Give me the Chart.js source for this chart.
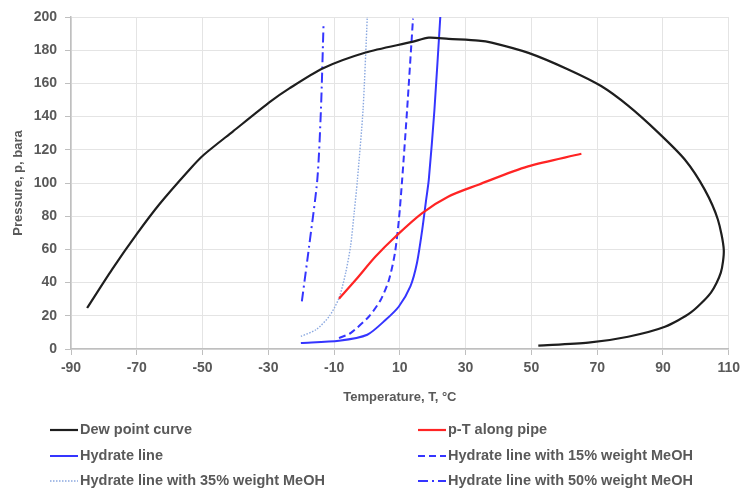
<!DOCTYPE html>
<html>
<head>
<meta charset="utf-8">
<script src="https://cdn.jsdelivr.net/npm/chart.js@4.4.1/dist/chart.umd.min.js"></script>
<style>
  html, body { margin: 0; padding: 0; background: #fff; }
  #wrap { position: relative; width: 745px; height: 492px; }
</style>
</head>
<body>
<div id="wrap"><canvas id="phaseChart" width="745" height="492"></canvas></div>
<script>
// Dew point curve (T in degC, p in bara)
const dewT = [-85.1, -77.5, -69.8, -63, -54, -49.6, -40.8, -29.4, -23.6, -13.5, -0.4, 13.7, 18.8, 24.8, 33.9, 37.9, 49.1, 61.2, 71.2, 79.4, 88.5, 96.7, 102.7, 106.7, 108.5, 107.6, 104.6, 98.5, 90.6, 79.4, 67.3, 52.1];
const dewP = [24.7, 48, 69.8, 87.5, 108, 117, 131, 149, 157, 169, 178.6, 185, 187.6, 186.8, 185.8, 184.6, 178.4, 168.4, 158.4, 146.6, 130.5, 114, 96, 78, 59.8, 46, 34, 22, 13.4, 7.4, 3.8, 2];

// p-T along pipe
const pipeT = [-8.5, -3.4, 2.6, 8.7, 16.8, 24.8, 33.9, 49, 65.2];
const pipeP = [30.3, 41.7, 55.7, 67.8, 81.9, 91.9, 99, 110, 117.6];

// Hydrate line
const hydT = [-20.1, -8.5, 0.1, 5.7, 9.7, 13.2, 15.2, 16.8, 18, 18.8, 20.5, 22.3];
const hydP = [3.6, 5, 8.6, 17.6, 25.6, 37.7, 51.8, 71.8, 90, 102, 143.7, 200];

// Hydrate line with 15% weight MeOH
const meoh15T = [-8.5, -5, 0.6, 4.2, 6.7, 8.5, 9.7, 10.7, 12.2, 14];
const meoh15P = [6.6, 9.6, 19.6, 29.7, 41.7, 57.8, 77.8, 102, 144, 199];

// Hydrate line with 35% weight MeOH
const meoh35T = [-20.1, -15.5, -11.5, -8.5, -6.5, -5, -3.9, -2.9, -1.2, 0.1];
const meoh35P = [7.6, 11.6, 19.6, 30.7, 45.7, 61.8, 81.9, 102, 144, 200];

// Hydrate line with 50% weight MeOH
const meoh50T = [-19.8, -17.6, -15.1, -14, -13.2];
const meoh50P = [28.7, 61.8, 102, 144, 196];

const xTicks = { min: -90, max: 110, step: 20 };
const yTicks = { min: 0, max: 200, step: 20 };

function pts(xs, ys) {
    return xs.map((x, i) => ({ x: x, y: ys[i] }));
}

const textColor = '#595959';
const tickFont = { family: 'Liberation Sans', size: 14, weight: 'bold' };
const titleFont = { family: 'Liberation Sans', size: 13, weight: 'bold' };

const datasets = [
    { label: 'Dew point curve', data: pts(dewT, dewP), borderColor: '#1e1e1e', borderWidth: 2.2, tension: 0.25, legendPos: [0, 0] },
    { label: 'p-T along pipe', data: pts(pipeT, pipeP), borderColor: '#ff2424', borderWidth: 2.2, tension: 0.3, legendPos: [1, 0] },
    { label: 'Hydrate line', data: pts(hydT, hydP), borderColor: '#3535ff', borderWidth: 2, tension: 0.25, legendPos: [0, 1] },
    { label: 'Hydrate line with 15% weight MeOH', data: pts(meoh15T, meoh15P), borderColor: '#3535ff', borderWidth: 2, borderDash: [7, 4], tension: 0.25, legendPos: [1, 1] },
    { label: 'Hydrate line with 35% weight MeOH', data: pts(meoh35T, meoh35P), borderColor: '#8aa8e0', borderWidth: 1.4, borderDash: [1.5, 1.5], tension: 0.25, legendPos: [0, 2] },
    { label: 'Hydrate line with 50% weight MeOH', data: pts(meoh50T, meoh50P), borderColor: '#3535ff', borderWidth: 2, borderDash: [10, 4, 2, 4], tension: 0.25, legendPos: [1, 2] }
];
datasets.forEach(d => { d.showLine = true; d.pointRadius = 0; d.fill = false; });

// two-column legend under the axis title
const legendPlugin = {
    id: 'twoColLegend',
    afterDraw(chart) {
        const ctx = chart.ctx;
        const colX = [50, 418];
        const rowY = [430, 456, 481];
        ctx.save();
        ctx.font = 'bold 14.5px "Liberation Sans"';
        ctx.textBaseline = 'middle';
        ctx.fillStyle = textColor;
        chart.data.datasets.forEach(ds => {
            const x = colX[ds.legendPos[0]];
            const y = rowY[ds.legendPos[1]];
            ctx.strokeStyle = ds.borderColor;
            ctx.lineWidth = ds.borderWidth;
            ctx.setLineDash(ds.borderDash || []);
            ctx.beginPath();
            ctx.moveTo(x, y);
            ctx.lineTo(x + 28, y);
            ctx.stroke();
            ctx.setLineDash([]);
            ctx.fillText(ds.label, x + 30, y);
        });
        ctx.restore();
    }
};

new Chart(document.getElementById('phaseChart'), {
    type: 'scatter',
    data: { datasets: datasets },
    options: {
        responsive: false,
        animation: false,
        layout: { padding: { top: 17, right: 14, left: 0, bottom: 83 } },
        plugins: { legend: { display: false }, tooltip: { enabled: false } },
        scales: {
            x: {
                type: 'linear',
                min: xTicks.min,
                max: xTicks.max,
                afterFit(scale) { scale.height = 60; },
                ticks: { stepSize: xTicks.step, color: textColor, font: tickFont, padding: 5, maxRotation: 0 },
                grid: { color: '#e4e4e4', tickColor: '#bfbfbf', tickLength: 6 },
                border: { color: '#bfbfbf', width: 1.5 },
                title: { display: true, text: 'Temperature, T, \u00B0C', color: textColor, font: titleFont, padding: { top: 4, bottom: 4 } }
            },
            y: {
                min: yTicks.min,
                max: yTicks.max,
                afterFit(scale) { scale.width = 71; },
                ticks: { stepSize: yTicks.step, color: textColor, font: tickFont, padding: 8 },
                grid: { color: '#e4e4e4', tickColor: '#bfbfbf', tickLength: 6 },
                border: { color: '#bfbfbf', width: 1.5 },
                title: { display: true, text: 'Pressure, p, bara', color: textColor, font: titleFont, padding: { top: 11, bottom: 2 } }
            }
        }
    },
    plugins: [legendPlugin]
});
</script>
</body>
</html>
